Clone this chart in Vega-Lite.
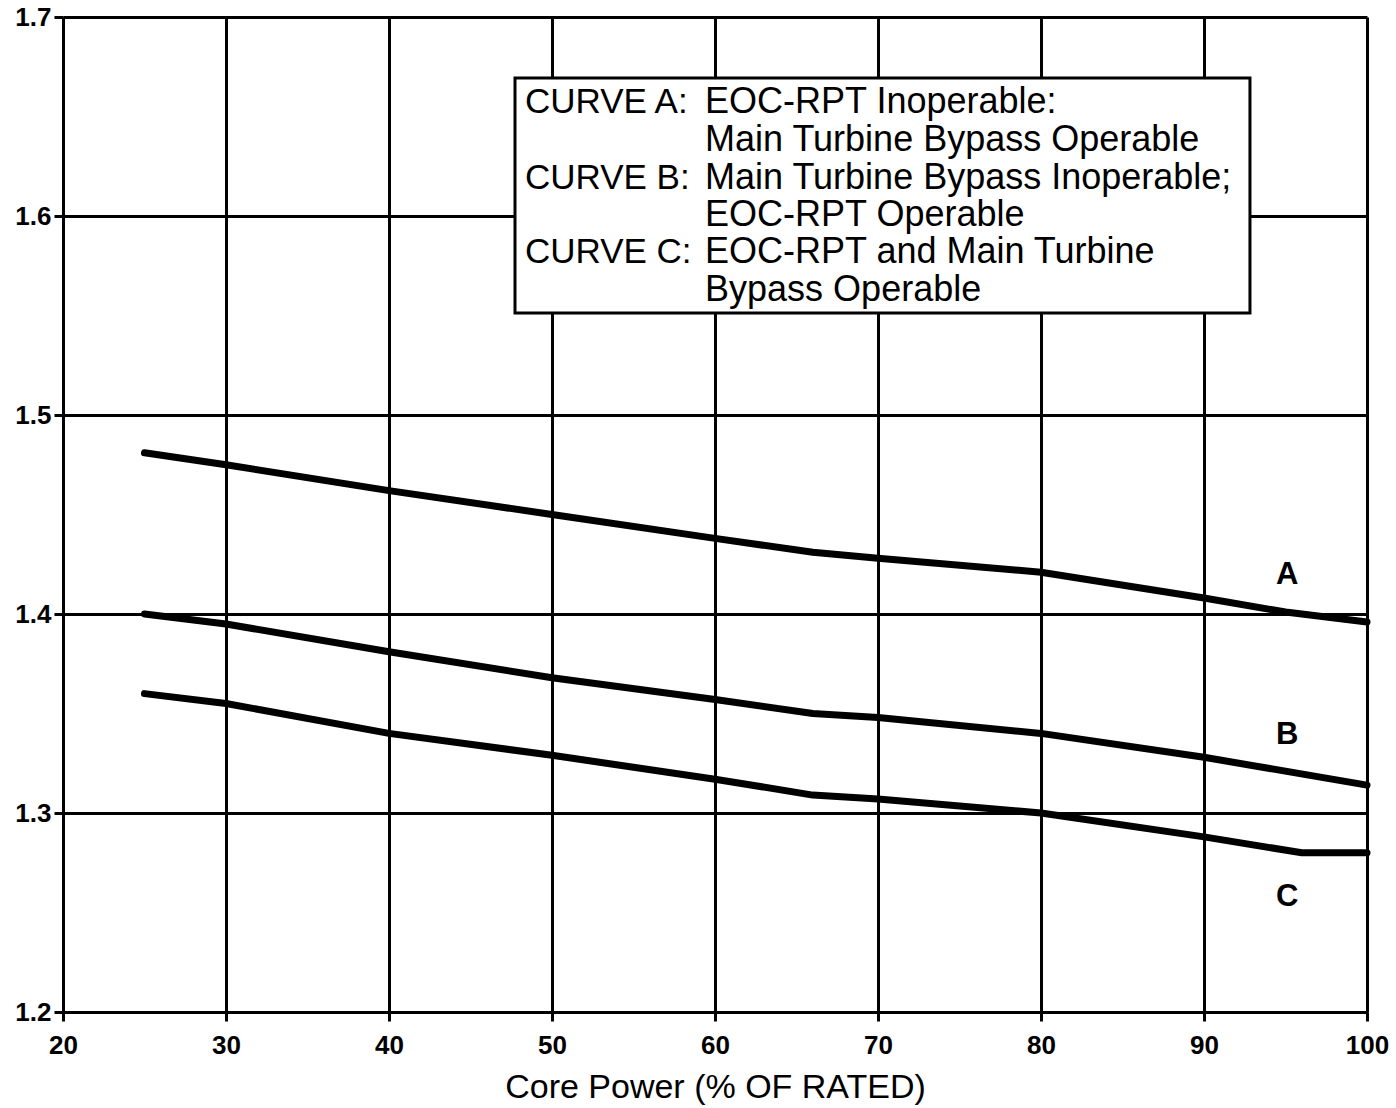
{
  "$schema": "https://vega.github.io/schema/vega-lite/v6.json",
  "width": 1304,
  "height": 995,
  "autosize": {"type": "none"},
  "padding": {"left": 63, "top": 17, "right": 29, "bottom": 96},
  "background": "white",
  "config": {
    "view": {"stroke": null},
    "font": "Liberation Sans",
    "axis": {
      "grid": true,
      "gridColor": "black",
      "gridWidth": 3,
      "gridOpacity": 1,
      "domainColor": "black",
      "domainWidth": 3,
      "tickColor": "black",
      "tickWidth": 3,
      "tickSize": 9,
      "labelColor": "black",
      "labelFont": "Liberation Sans",
      "labelFontWeight": "bold",
      "labelFontSize": 26,
      "titleColor": "black",
      "titleFont": "Liberation Sans",
      "titleFontWeight": "normal"
    }
  },
  "datasets": {
    "curves": [
      {"curve": "A", "power": 25, "value": 1.481},
      {"curve": "A", "power": 30, "value": 1.475},
      {"curve": "A", "power": 40, "value": 1.462},
      {"curve": "A", "power": 50, "value": 1.450},
      {"curve": "A", "power": 60, "value": 1.438},
      {"curve": "A", "power": 66, "value": 1.431},
      {"curve": "A", "power": 70, "value": 1.428},
      {"curve": "A", "power": 80, "value": 1.421},
      {"curve": "A", "power": 90, "value": 1.408},
      {"curve": "A", "power": 95, "value": 1.401},
      {"curve": "A", "power": 100, "value": 1.396},
      {"curve": "B", "power": 25, "value": 1.400},
      {"curve": "B", "power": 30, "value": 1.395},
      {"curve": "B", "power": 40, "value": 1.381},
      {"curve": "B", "power": 50, "value": 1.368},
      {"curve": "B", "power": 60, "value": 1.357},
      {"curve": "B", "power": 66, "value": 1.350},
      {"curve": "B", "power": 70, "value": 1.348},
      {"curve": "B", "power": 80, "value": 1.340},
      {"curve": "B", "power": 90, "value": 1.328},
      {"curve": "B", "power": 100, "value": 1.314},
      {"curve": "C", "power": 25, "value": 1.360},
      {"curve": "C", "power": 30, "value": 1.355},
      {"curve": "C", "power": 40, "value": 1.340},
      {"curve": "C", "power": 50, "value": 1.329},
      {"curve": "C", "power": 60, "value": 1.317},
      {"curve": "C", "power": 66, "value": 1.309},
      {"curve": "C", "power": 70, "value": 1.307},
      {"curve": "C", "power": 80, "value": 1.300},
      {"curve": "C", "power": 90, "value": 1.288},
      {"curve": "C", "power": 96, "value": 1.280},
      {"curve": "C", "power": 100, "value": 1.280}
    ],
    "curveLabels": [
      {"label": "A", "power": 95.1, "value": 1.4196},
      {"label": "B", "power": 95.1, "value": 1.339},
      {"label": "C", "power": 95.1, "value": 1.258}
    ],
    "legendLeft": [
      {"text": "CURVE A:", "power": 48.34, "value": 1.6573},
      {"text": "CURVE B:", "power": 48.34, "value": 1.6191},
      {"text": "CURVE C:", "power": 48.34, "value": 1.5819}
    ],
    "legendRight": [
      {"text": "EOC-RPT Inoperable:", "power": 59.39, "value": 1.6573},
      {"text": "Main Turbine Bypass Operable", "power": 59.39, "value": 1.6382},
      {"text": "Main Turbine Bypass Inoperable;", "power": 59.39, "value": 1.6191},
      {"text": "EOC-RPT Operable", "power": 59.39, "value": 1.6005},
      {"text": "EOC-RPT and Main Turbine", "power": 59.39, "value": 1.5819},
      {"text": "Bypass Operable", "power": 59.39, "value": 1.5628}
    ]
  },
  "layer": [
    {
      "data": {"name": "curves"},
      "mark": {"type": "line", "color": "black", "strokeWidth": 7, "strokeCap": "round", "strokeJoin": "round"},
      "encoding": {
        "x": {
          "field": "power",
          "type": "quantitative",
          "scale": {"domain": [20, 100], "nice": false, "zero": false},
          "axis": {
            "values": [20, 30, 40, 50, 60, 70, 80, 90, 100],
            "title": "Core Power (% OF RATED)",
            "titleFontSize": 34,
            "titlePadding": 12,
            "labelPadding": 11,
            "labelFlush": false
          }
        },
        "y": {
          "field": "value",
          "type": "quantitative",
          "scale": {"domain": [1.2, 1.7], "nice": false, "zero": false},
          "axis": {
            "values": [1.2, 1.3, 1.4, 1.5, 1.6, 1.7],
            "format": ".1f",
            "title": null,
            "labelPadding": 3,
            "labelFlush": false
          }
        },
        "detail": {"field": "curve"}
      }
    },
    {
      "data": {"values": [{}]},
      "mark": {"type": "rect", "fill": "white", "stroke": "black", "strokeWidth": 3},
      "encoding": {
        "x": {"datum": 47.73, "type": "quantitative"},
        "x2": {"datum": 92.82},
        "y": {"datum": 1.6693, "type": "quantitative"},
        "y2": {"datum": 1.5513}
      }
    },
    {
      "data": {"name": "legendLeft"},
      "mark": {"type": "text", "align": "left", "baseline": "middle", "fontSize": 35, "font": "Liberation Sans", "color": "black"},
      "encoding": {
        "x": {"field": "power", "type": "quantitative"},
        "y": {"field": "value", "type": "quantitative"},
        "text": {"field": "text"}
      }
    },
    {
      "data": {"name": "legendRight"},
      "mark": {"type": "text", "align": "left", "baseline": "middle", "fontSize": 36, "font": "Liberation Sans", "color": "black"},
      "encoding": {
        "x": {"field": "power", "type": "quantitative"},
        "y": {"field": "value", "type": "quantitative"},
        "text": {"field": "text"}
      }
    },
    {
      "data": {"name": "curveLabels"},
      "mark": {"type": "text", "align": "center", "baseline": "middle", "fontSize": 31, "fontWeight": "bold", "font": "Liberation Sans", "color": "black"},
      "encoding": {
        "x": {"field": "power", "type": "quantitative"},
        "y": {"field": "value", "type": "quantitative"},
        "text": {"field": "label"}
      }
    }
  ]
}
